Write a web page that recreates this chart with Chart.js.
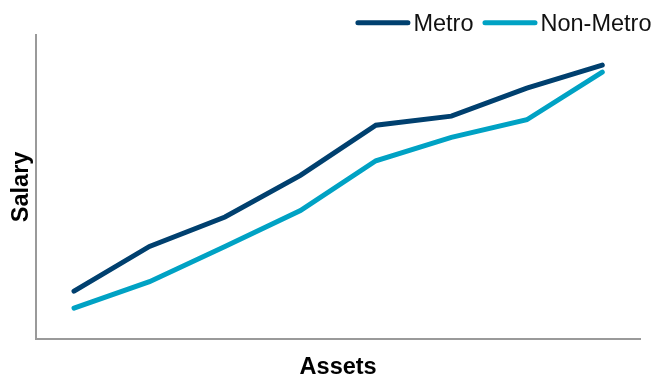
<!DOCTYPE html>
<html>
<head>
<meta charset="utf-8">
<script src="https://cdn.jsdelivr.net/npm/chart.js@4/dist/chart.umd.min.js"></script>
<style>
  html, body { margin: 0; padding: 0; background: #fff; }
  #wrap { width: 653px; height: 378px; position: relative; }
</style>
</head>
<body>
<div id="wrap"><canvas id="chart"></canvas></div>
<script>
// values (y axis has no ticks, so 0-100 is arbitrary)
const categories = ["1", "2", "3", "4", "5", "6", "7", "8"];
const metro = [15.7, 30.4, 40.1, 53.8, 70.3, 73.3, 82.5, 90.1];
const nonMetro = [10.1, 18.8, 30.4, 42.2, 58.6, 66.3, 72.1, 87.8];
const seriesNames = ["Metro", "Non-Metro"];
const seriesColors = ["#00406F", "#00A2C4"];

const FONT = "Liberation Sans, Arial, sans-serif";

// legend drawn by hand so the line sample sits tight to its text
const lineLegend = {
  id: "lineLegend",
  afterDraw(chart) {
    const ctx = chart.ctx;
    ctx.save();
    ctx.font = "23.5px " + FONT;
    const sample = 55, gap = 3, itemGap = 9;
    const items = chart.data.datasets.map((d) => ({
      label: d.label,
      color: d.borderColor,
      w: sample + gap + ctx.measureText(d.label).width
    }));
    const total = items.reduce((s, it) => s + it.w, 0) + itemGap * (items.length - 1);
    let x = chart.width - 1.5 - total;
    items.forEach((it) => {
      ctx.strokeStyle = it.color;
      ctx.lineWidth = 5;
      ctx.lineCap = "round";
      ctx.beginPath();
      ctx.moveTo(x + 2.5, 22.7);
      ctx.lineTo(x + sample - 2.5, 22.7);
      ctx.stroke();
      ctx.fillStyle = "#111";
      ctx.textBaseline = "alphabetic";
      ctx.fillText(it.label, x + sample + gap, 31);
      x += it.w + itemGap;
    });
    ctx.restore();
  }
};

function dataset(label, data, color) {
  return {
    label,
    data,
    borderColor: color,
    backgroundColor: color,
    borderWidth: 5,
    borderCapStyle: "round",
    tension: 0,
    pointRadius: 0,
    fill: false
  };
}

new Chart(document.getElementById("chart"), {
  type: "line",
  data: {
    labels: categories,
    datasets: [
      dataset(seriesNames[0], metro, seriesColors[0]),
      dataset(seriesNames[1], nonMetro, seriesColors[1])
    ]
  },
  options: {
    responsive: true,
    maintainAspectRatio: false,
    animation: false,
    layout: { padding: { top: 35, right: 13, left: 7.6, bottom: -4 } },
    plugins: {
      legend: { display: false },
      tooltip: { enabled: false }
    },
    scales: {
      x: {
        offset: true,
        grid: { display: false, drawTicks: false },
        ticks: { display: false },
        border: { display: true, color: "#9a9a9a", width: 2 },
        title: {
          display: true,
          text: "Assets",
          color: "#000",
          font: { family: FONT, size: 23.5, weight: "bold" },
          padding: { top: 15, bottom: 0 }
        }
      },
      y: {
        min: 0,
        max: 100,
        grid: { display: false, drawTicks: false },
        ticks: { display: false },
        border: { display: true, color: "#9a9a9a", width: 2 },
        title: {
          display: true,
          text: "Salary",
          color: "#000",
          font: { family: FONT, size: 23.5, weight: "bold" },
          padding: { top: 0, bottom: 0.5 }
        }
      }
    }
  },
  plugins: [lineLegend]
});
</script>
</body>
</html>
